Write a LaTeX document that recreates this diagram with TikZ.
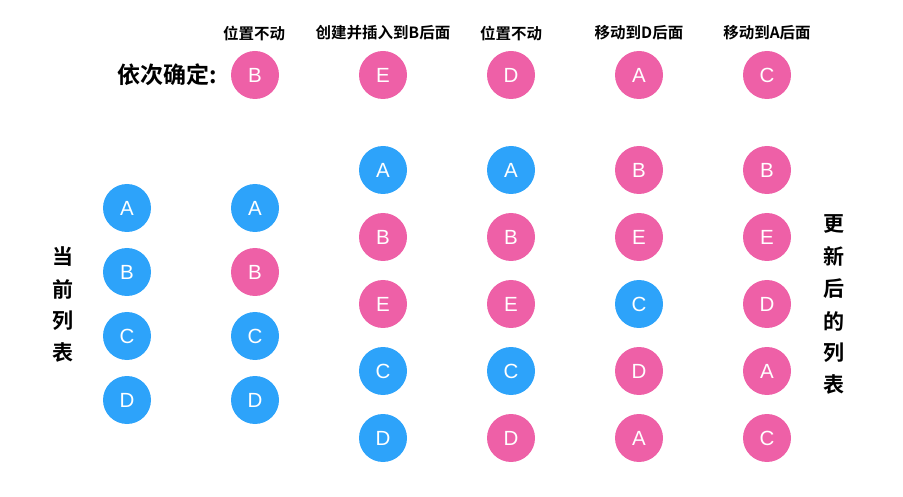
\documentclass[tikz,border=0pt]{standalone}
\usepackage{fontspec}
\setmainfont{Liberation Sans}
\newfontfamily\cjk{Noto Sans CJK SC}[BoldFont={Noto Sans CJK SC Bold}]
\definecolor{cblue}{RGB}{45,163,250}
\definecolor{cpink}{RGB}{238,96,167}
\tikzset{
  bnode/.style={circle, fill=cblue, draw=none, minimum size=48pt, inner sep=0pt, text=white, font=\fontsize{20.5}{20.5}\selectfont},
  pnode/.style={bnode, fill=cpink},
  toplabel/.style={font=\cjk\bfseries\fontsize{15.5}{15.5}\selectfont, text=black, inner sep=0pt},
  vlabel/.style={font=\cjk\bfseries\fontsize{21}{21}\selectfont, text=black, inner sep=0pt},
}
\begin{document}
\begin{tikzpicture}[x=1pt,y=-1pt]
\useasboundingbox (0,0) rectangle (903,497);
% top row
\node[pnode] (t1) at (255,75) {B};
\node[pnode] (t2) at (383,75) {E};
\node[pnode] (t3) at (511,75) {D};
\node[pnode] (t4) at (639,75) {A};
\node[pnode] (t5) at (767,75) {C};
\node[toplabel] (l1) at (254,33) {位置不动};
\node[toplabel] (l2) at (383,33) {创建并插入到B后面};
\node[toplabel] (l3) at (511,33) {位置不动};
\node[toplabel] (l4) at (639,33) {移动到D后面};
\node[toplabel] (l5) at (767,33) {移动到A后面};
\node[font=\cjk\bfseries\fontsize{23}{23}\selectfont, inner sep=0pt] (hdr) at (167,75) {依次确定:};
% column 1
\node[bnode] (a1) at (127,208) {A};
\node[bnode] (a2) at (127,272) {B};
\node[bnode] (a3) at (127,336) {C};
\node[bnode] (a4) at (127,400) {D};
% column 2
\node[bnode] (b1) at (255,208) {A};
\node[pnode] (b2) at (255,272) {B};
\node[bnode] (b3) at (255,336) {C};
\node[bnode] (b4) at (255,400) {D};
% column 3
\node[bnode] (c1) at (383,170) {A};
\node[pnode] (c2) at (383,237) {B};
\node[pnode] (c3) at (383,304) {E};
\node[bnode] (c4) at (383,371) {C};
\node[bnode] (c5) at (383,438) {D};
% column 4
\node[bnode] (d1) at (511,170) {A};
\node[pnode] (d2) at (511,237) {B};
\node[pnode] (d3) at (511,304) {E};
\node[bnode] (d4) at (511,371) {C};
\node[pnode] (d5) at (511,438) {D};
% column 5
\node[pnode] (e1) at (639,170) {B};
\node[pnode] (e2) at (639,237) {E};
\node[bnode] (e3) at (639,304) {C};
\node[pnode] (e4) at (639,371) {D};
\node[pnode] (e5) at (639,438) {A};
% column 6
\node[pnode] (f1) at (767,170) {B};
\node[pnode] (f2) at (767,237) {E};
\node[pnode] (f3) at (767,304) {D};
\node[pnode] (f4) at (767,371) {A};
\node[pnode] (f5) at (767,438) {C};
% vertical labels
\node[vlabel] (v1) at (63,257) {当};
\node[vlabel] (v2) at (63,289) {前};
\node[vlabel] (v3) at (63,321) {列};
\node[vlabel] (v4) at (63,353) {表};
\node[vlabel] (w1) at (834,224) {更};
\node[vlabel] (w2) at (834,256) {新};
\node[vlabel] (w3) at (834,289) {后};
\node[vlabel] (w4) at (834,321) {的};
\node[vlabel] (w5) at (834,353) {列};
\node[vlabel] (w6) at (834,385) {表};
\end{tikzpicture}
\end{document}
